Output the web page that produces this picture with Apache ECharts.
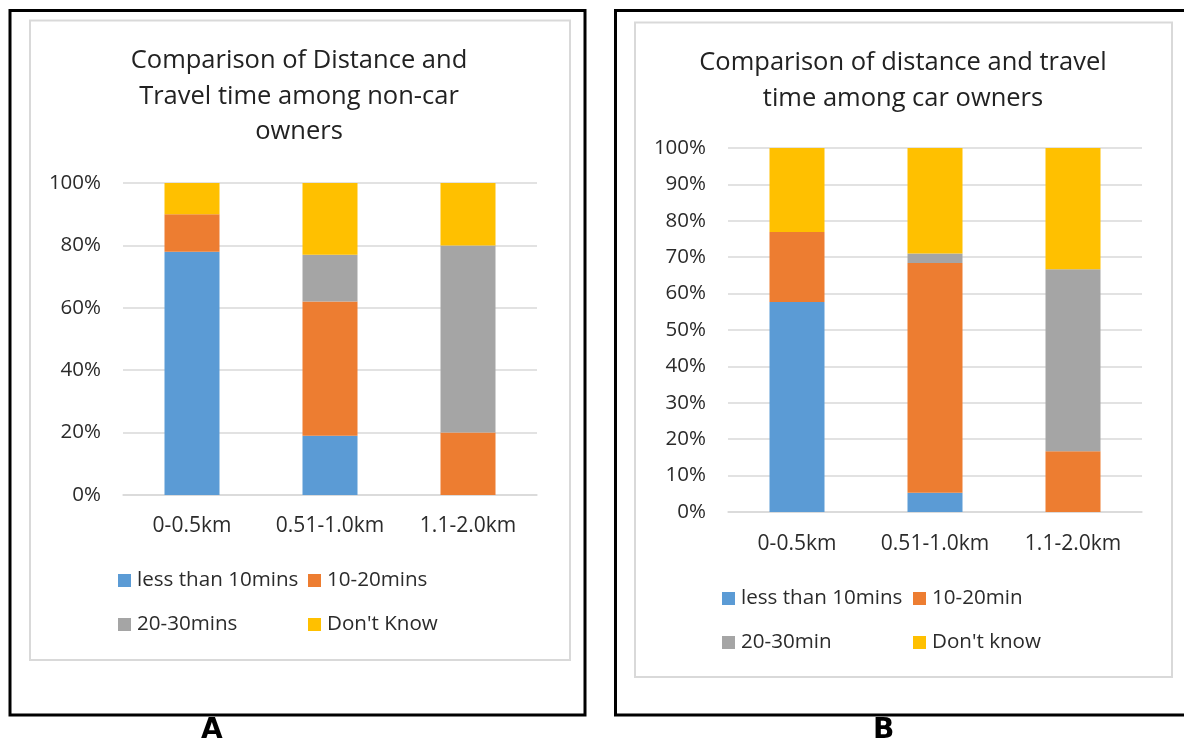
<!DOCTYPE html>
<html>
<head>
<meta charset="utf-8">
<title>Distance and travel time: non-car owners vs car owners</title>
<script src="https://cdn.jsdelivr.net/npm/echarts@6/dist/echarts.min.js"></script>
<style>
  html, body { margin: 0; padding: 0; background: #ffffff; }
  #chart { width: 1184px; height: 740px; }
</style>
</head>
<body>
<div id="chart"></div>
<script>
// Distance bands shared by both panels
const categories = ['0-0.5km', '0.51-1.0km', '1.1-2.0km'];

// Panel A: non-car owners (% of respondents per distance band)
const nonCarNames = ['less than 10mins', '10-20mins', '20-30mins', "Don't Know"];
const nonCarUnder10 = [78, 19, 0];
const nonCar10to20 = [12, 43, 20];
const nonCar20to30 = [0, 15, 60];
const nonCarDontKnow = [10, 23, 20];

// Panel B: car owners (% of respondents per distance band)
const carNames = ['less than 10mins', '10-20min', '20-30min', "Don't know"];
const carUnder10 = [57.7, 5.3, 0];
const car10to20 = [19.2, 63.1, 16.7];
const car20to30 = [0, 2.6, 50];
const carDontKnow = [23.1, 29.0, 33.3];

// Axis ticks
const ticksA = { min: 0, max: 100, interval: 20 };
const ticksB = { min: 0, max: 100, interval: 10 };

const palette = ['#5B9BD5', '#ED7D31', '#A5A5A5', '#FFC000'];
const FONT = '"Open Sans", "Noto Sans", sans-serif';
const gridColor = '#d9d9d9';
const textColor = '#2b2b2b';

function makeSeries(names, values, axisIndex) {
  return names.map((name, i) => ({
    name: name,
    type: 'bar',
    stack: 'panel' + axisIndex,
    xAxisIndex: axisIndex,
    yAxisIndex: axisIndex,
    barWidth: 55,
    itemStyle: { color: palette[i] },
    emphasis: { disabled: true },
    data: values[i]
  }));
}

function makeLegend(name, left, top) {
  return {
    data: [name],
    left: left,
    top: top,
    padding: 0,
    icon: 'rect',
    itemWidth: 13,
    itemHeight: 13,
    selectedMode: false,
    textStyle: { fontFamily: FONT, fontSize: 20.6, color: textColor, padding: [0, 0, 0, 1] }
  };
}

function xAxisFor(gridIndex, margin) {
  return {
    type: 'category',
    gridIndex: gridIndex,
    data: categories,
    axisLine: { show: true, lineStyle: { color: gridColor, width: 1.5 } },
    axisTick: { show: false },
    axisLabel: { interval: 0, fontFamily: FONT, fontSize: 21, color: textColor, margin: margin }
  };
}

function yAxisFor(gridIndex, ticks) {
  return {
    type: 'value',
    gridIndex: gridIndex,
    min: ticks.min,
    max: ticks.max,
    interval: ticks.interval,
    axisLine: { show: false },
    axisTick: { show: false },
    splitLine: { lineStyle: { color: gridColor, width: 1.5 } },
    axisLabel: { fontFamily: FONT, fontSize: 20.5, color: textColor, margin: 22, formatter: '{value}%' }
  };
}

const chart = echarts.init(document.getElementById('chart'), null, { renderer: 'canvas' });

chart.setOption({
  animation: false,
  backgroundColor: '#ffffff',
  title: [
    {
      text: 'Comparison of Distance and\nTravel time among non-car\nowners',
      left: 299, top: 43, padding: 0,
      textAlign: 'center',
      textStyle: { fontFamily: FONT, fontSize: 25.5, fontWeight: 'normal', color: '#222222', lineHeight: 35.5 }
    },
    {
      text: 'Comparison of distance and travel\ntime among car owners',
      left: 903, top: 44, padding: 0,
      textAlign: 'center',
      textStyle: { fontFamily: FONT, fontSize: 25.5, fontWeight: 'normal', color: '#222222', lineHeight: 36.5 }
    }
  ],
  legend: [
    makeLegend(nonCarNames[0], 118, 570),
    makeLegend(nonCarNames[1], 308, 570),
    makeLegend(nonCarNames[2], 118, 614),
    makeLegend(nonCarNames[3], 308, 614),
    makeLegend(carNames[0], 722, 588),
    makeLegend(carNames[1], 913, 588),
    makeLegend(carNames[2], 722, 632),
    makeLegend(carNames[3], 913, 632)
  ],
  grid: [
    { left: 123, top: 183, width: 414, height: 312 },
    { left: 728, top: 148, width: 414, height: 364 }
  ],
  xAxis: [xAxisFor(0, 21), xAxisFor(1, 22)],
  yAxis: [yAxisFor(0, ticksA), yAxisFor(1, ticksB)],
  series: [
    ...makeSeries(nonCarNames, [nonCarUnder10, nonCar10to20, nonCar20to30, nonCarDontKnow], 0),
    ...makeSeries(carNames, [carUnder10, car10to20, car20to30, carDontKnow], 1)
  ],
  graphic: [
    // chart-area frames
    { type: 'rect', shape: { x: 30, y: 20.5, width: 540, height: 639.5 },
      style: { fill: null, stroke: '#d9d9d9', lineWidth: 2 }, silent: true },
    { type: 'rect', shape: { x: 635, y: 22.5, width: 537, height: 654.5 },
      style: { fill: null, stroke: '#d9d9d9', lineWidth: 2 }, silent: true },
    // outer panel boxes
    { type: 'rect', shape: { x: 10, y: 10.5, width: 575, height: 704.5 },
      style: { fill: null, stroke: '#000000', lineWidth: 3 }, silent: true },
    { type: 'rect', shape: { x: 615.5, y: 10.5, width: 600, height: 704.5 },
      style: { fill: null, stroke: '#000000', lineWidth: 3 }, silent: true },
    // panel letters
    { type: 'text', left: 201, top: 717,
      style: { text: 'A', font: 'bold 28px "DejaVu Sans", sans-serif', fill: '#000000' }, silent: true },
    { type: 'text', left: 873, top: 717,
      style: { text: 'B', font: 'bold 28px "DejaVu Sans", sans-serif', fill: '#000000' }, silent: true }
  ]
});
</script>
</body>
</html>
